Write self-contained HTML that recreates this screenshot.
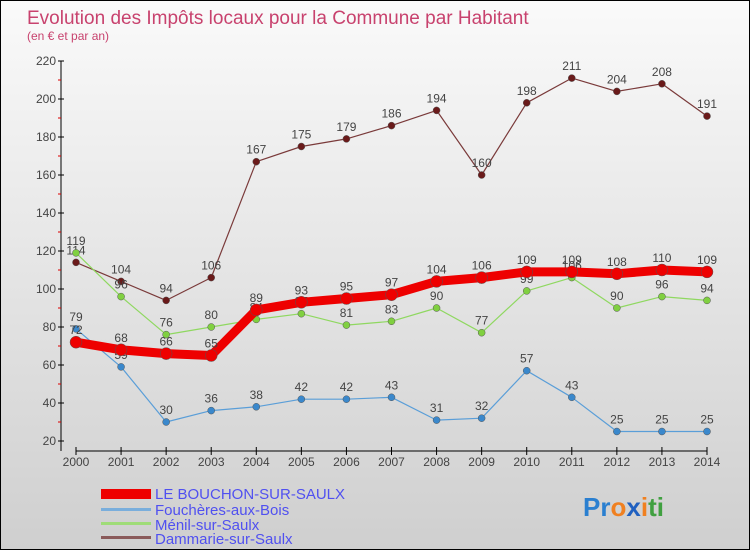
<!DOCTYPE html>
<html><head><meta charset="utf-8"><style>
body{margin:0}
#c{width:748px;height:548px;border:1px solid #000;background:linear-gradient(#fafafa,#cfcfcf);position:relative;font-family:"Liberation Sans",sans-serif;overflow:hidden}
</style></head><body>
<div id="c">
<svg id="s" width="748" height="548" style="position:absolute;left:0;top:0">
<text x="26" y="23" font-size="19" fill="#c8426e">Evolution des Impôts locaux pour la Commune par Habitant</text>
<text x="26" y="39" font-size="12" fill="#c8426e">(en € et par an)</text>
<g id="axes"></g><g id="series"></g>
<g>
<rect x="100" y="488" width="50" height="10" fill="#ee0000"/>
<text x="154" y="498" font-size="15" fill="#5050f0">LE BOUCHON-SUR-SAULX</text>
<rect x="100" y="507" width="50" height="3" fill="#7aaedc"/>
<text x="154" y="514" font-size="15" fill="#5050f0">Fouchères-aux-Bois</text>
<rect x="100" y="521" width="50" height="3" fill="#9fdc78"/>
<text x="154" y="529" font-size="15" fill="#5050f0">Ménil-sur-Saulx</text>
<rect x="100" y="535" width="50" height="3" fill="#8a5a5a"/>
<text x="154" y="543" font-size="15" fill="#5050f0">Dammarie-sur-Saulx</text>
</g>
<text x="582" y="515" font-size="26" font-weight="bold"><tspan fill="#2a7fd0">Pr</tspan><tspan fill="#f08020">o</tspan><tspan fill="#2060c0">x</tspan><tspan fill="#f08020">i</tspan><tspan fill="#40a040">ti</tspan></text>
</svg></div>
<script>
const years=["2000","2001","2002","2003","2004","2005","2006","2007","2008","2009","2010","2011","2012","2013","2014"];
const yTicks=[20,40,60,80,100,120,140,160,180,200,220];
const bouchon=[72,68,66,65,89,93,95,97,104,106,109,109,108,110,109];
const foucheres=[79,59,30,36,38,42,42,43,31,32,57,43,25,25,25];
const menil=[119,96,76,80,84,87,81,83,90,77,99,106,90,96,94];
const dammarie=[114,104,94,106,167,175,179,186,194,160,198,211,204,208,191];
const NS="http://www.w3.org/2000/svg";
const X=i=>75+i*(631/14), Y=v=>440-(v-20)*1.9;
function mk(t,a,p){const e=document.createElementNS(NS,t);for(const k in a)e.setAttribute(k,a[k]);p.appendChild(e);return e;}
const ax=document.getElementById('axes');
let l=mk('line',{x1:60,y1:60,x2:60,y2:450,stroke:'#000'},ax);


l=mk('line',{x1:75,y1:450,x2:706,y2:450,stroke:'#000'},ax);


yTicks.forEach((v,i)=>{
 mk('line',{x1:57,y1:Y(v),x2:63,y2:Y(v),stroke:'#000'},ax);
 if(i<yTicks.length-1)mk('line',{x1:57,y1:Y(v+10),x2:60,y2:Y(v+10),stroke:'#d00'},ax);
 const t=mk('text',{x:55,y:Y(v)+4,'font-size':12,fill:'#444','text-anchor':'end'},ax);t.textContent=v;
 
 
});
years.forEach((y,i)=>{
 mk('line',{x1:X(i),y1:446,x2:X(i),y2:454,stroke:'#000'},ax);
 const t=mk('text',{x:X(i),y:465,'font-size':12,fill:'#444','text-anchor':'middle'},ax);t.textContent=y;
 
 
});
const sg=document.getElementById('series');
function draw(d,name,col,dot,w,r){
 const g=mk('g',{},sg);
 
 
 mk('polyline',{points:d.map((v,i)=>X(i)+','+Y(v)).join(' '),fill:'none',stroke:col,'stroke-width':w,'stroke-linejoin':'round'},g);
 d.forEach((v,i)=>{
  const c=mk('circle',{cx:X(i),cy:Y(v),r:r,fill:dot,stroke:'#555','stroke-width':0.5},g);
  
  
  const t=mk('text',{x:X(i),y:Y(v)-8,'font-size':12,fill:'#444','text-anchor':'middle'},g);t.textContent=v;
  
  
 });
}
draw(dammarie,'dammarie','#7a3a3a','#6a1a1a',1.2,3.5);
draw(menil,'menil','#8fd860','#80d040',1.2,3.5);
draw(foucheres,'foucheres','#5a9ed8','#3a88cc',1.2,3.5);
draw(bouchon,'bouchon','#ee0000','#ee0000',9,6);
</script></body></html>
